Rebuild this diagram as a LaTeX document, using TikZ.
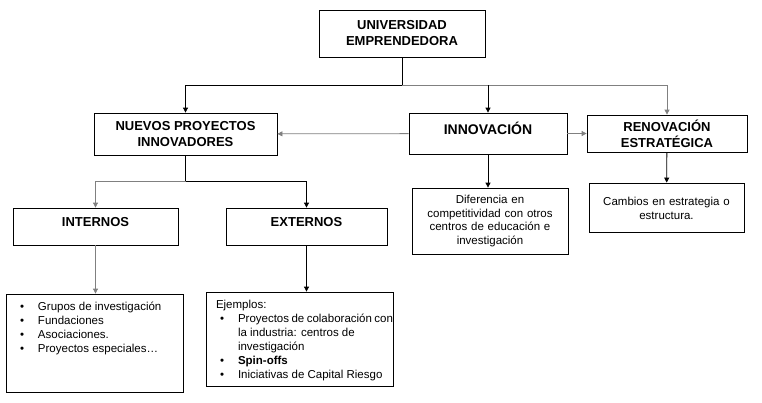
\documentclass[tikz,border=0pt]{standalone}
\usepackage{fontspec}
\setmainfont{Liberation Sans}
\usetikzlibrary{positioning,arrows.meta}

\newcommand{\headfont}{\fontsize{13}{16}\selectfont\bfseries}
\newcommand{\bodyfont}{\fontsize{11.5}{13.5}\selectfont}
\newcommand{\listfont}{\fontsize{11.5}{14}\selectfont}
\newcommand{\bitem}[1]{\par\noindent\hangindent=22pt\hangafter=1\makebox[22pt][l]{\hspace{4pt}\textbullet}#1}

\begin{document}
\begin{tikzpicture}[x=1pt,y=-1pt,
    box/.style={draw, line width=0.8pt, inner sep=0pt, align=center},
    head/.style={box, font=\headfont},
    body/.style={box, font=\bodyfont},
    arr/.style={-{Triangle[length=5pt,width=5pt]}, line width=0.8pt}]
    \useasboundingbox (0,0) rectangle (762,402);

    % Top level
    \node [head, minimum width=166pt, minimum height=47pt] (uni) at (402,33.5) {UNIVERSIDAD\\EMPRENDEDORA};

    % Second level
    \node [head, minimum width=183pt, minimum height=42pt] (nuevos) at (185.5,134) {NUEVOS PROYECTOS\\INNOVADORES};
    \node [head, font=\fontsize{14}{16}\selectfont\bfseries, text depth=10pt, minimum width=158pt, minimum height=41pt] (innov) at (488,133.5) {INNOVACIÓN};
    \node [head, minimum width=160pt, minimum height=37pt] (renov) at (667,133.5) {RENOVACIÓN\\ESTRATÉGICA};

    % Descriptions on the right
    \node [body, text width=150pt, minimum width=156pt, minimum height=66pt] (difer) at (490,221) {Diferencia en\\competitividad con otros\\centros de educación e\\investigación};
    \node [body, text width=150pt, text depth=12pt, minimum width=155pt, minimum height=49pt] (cambios) at (666.5,207.5) {Cambios en estrategia o\\estructura.};

    % Third level
    \node [head, text depth=9pt, minimum width=165pt, minimum height=37pt] (intern) at (95.5,226.5) {INTERNOS};
    \node [head, text depth=9pt, minimum width=161pt, minimum height=37pt] (extern) at (306.5,226.5) {EXTERNOS};

    % Lists
    \node [box, font=\listfont, align=left] (listint) at (94.5,343) {%
        \begin{minipage}[c][98pt][t]{177pt}
            \leftskip=10pt\hfuzz=20pt
            \vspace{8pt}
            \bitem{Grupos de investigación}
            \bitem{Fundaciones}
            \bitem{Asociaciones.}
            \bitem{Proyectos especiales\dots}
        \end{minipage}};
    \node [box, font=\listfont, align=left] (listext) at (299.5,339) {%
        \begin{minipage}[c][94pt][t]{187pt}
            \leftskip=10pt\hfuzz=20pt
            \vspace{8pt}
            \noindent Ejemplos:
            \bitem{Proyectos de colaboración con\\la industria: centros de\\investigación}
            \bitem{\textbf{Spin-offs}}
            \bitem{Iniciativas de Capital Riesgo}
        \end{minipage}};

    % Connectors from the top
    \coordinate (bar) at (402,85);
    \draw [line width=0.8pt] (uni) -- (bar);
    \draw [arr] (bar) -| (nuevos);
    \draw [arr, gray] (bar) -| (renov);
    \draw [arr] (bar -| innov) -- (innov);

    % Connectors from INNOVACIÓN
    \draw [arr, gray] (innov) -- (nuevos);
    \draw [arr, gray] (innov) -- (renov);
    \draw [arr] (innov.south) -- (innov.south |- difer.north);
    \draw [arr] (renov) -- (cambios);

    % Connectors from NUEVOS PROYECTOS
    \coordinate (bar2) at (185.5,181);
    \draw [line width=0.8pt] (nuevos) -- (bar2);
    \draw [arr, gray] (bar2) -| (intern);
    \draw [arr] (bar2) -| (extern);
    \draw [arr, gray] (intern) -- (intern |- listint.north);
    \draw [arr] (extern.south) -- (extern.south |- listext.north);
\end{tikzpicture}
\end{document}
